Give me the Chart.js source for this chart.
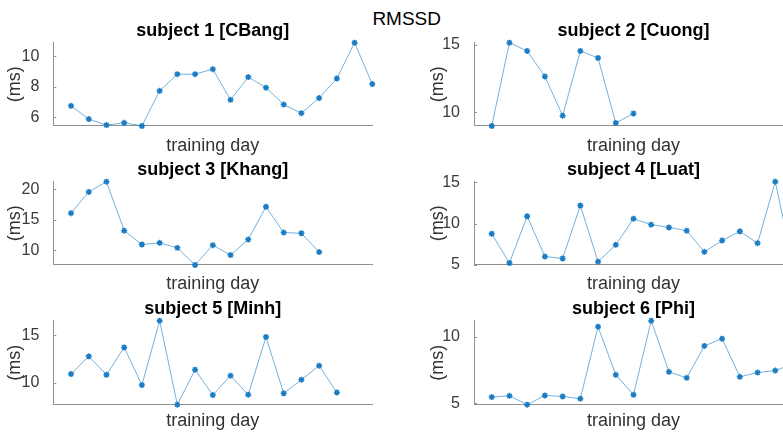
<!DOCTYPE html>
<html>
<head>
<meta charset="utf-8">
<title>RMSSD</title>
<script src="https://cdn.jsdelivr.net/npm/chart.js@4.4.1/dist/chart.umd.min.js"></script>
<style>
  html, body { margin: 0; padding: 0; background: #fff; }
  #wrap { position: relative; width: 783px; height: 433px; overflow: hidden; }
  #wrap canvas { position: absolute; }
  #sg {
    position: absolute; top: 9px; left: 406.7px; transform: translateX(-50%);
    font: 19px/19px 'Liberation Sans', Arial, Helvetica, sans-serif; color: #000; white-space: nowrap;
  }
</style>
</head>
<body>
<div id="wrap">
  <div id="sg">RMSSD</div>
</div>
<script>
// values, one point per training day
const titles = ['subject 1 [CBang]', 'subject 2 [Cuong]', 'subject 3 [Khang]',
                'subject 4 [Luat]', 'subject 5 [Minh]', 'subject 6 [Phi]'];

const cbang = [6.76, 5.89, 5.5, 5.65, 5.44, 7.74, 8.83, 8.83, 9.16, 7.15, 8.64, 7.95, 6.84, 6.28, 7.27, 8.55, 10.89, 8.18];
const cuong = [9.0, 15.15, 14.54, 12.66, 9.76, 14.54, 14.02, 9.22, 9.93];
const khang = [16.1, 19.57, 21.24, 13.24, 10.97, 11.24, 10.43, 7.62, 10.86, 9.24, 11.78, 17.14, 12.92, 12.81, 9.73];
const luat  = [8.78, 5.24, 10.9, 6.02, 5.8, 12.2, 5.4, 7.44, 10.6, 9.88, 9.55, 9.15, 6.59, 7.97, 9.07, 7.64, 15.08, 5.0];
const minh  = [10.94, 12.8, 10.87, 13.74, 9.79, 16.54, 7.73, 11.4, 8.74, 10.77, 8.78, 14.83, 8.92, 10.35, 11.82, 9.02];
const phi   = [5.45, 5.55, 4.88, 5.58, 5.5, 5.33, 10.75, 7.13, 5.63, 11.2, 7.35, 6.9, 9.3, 9.85, 6.98, 7.3, 7.45, 7.95];

const ticks1 = [6, 8, 10];
const ticks2 = [10, 15];
const ticks3 = [10, 15, 20];
const ticks4 = [5, 10, 15];
const ticks5 = [10, 15];
const ticks6 = [5, 10];

const dayMin = 0;
const dayMax = 18;

const FONT = "'Liberation Sans', Arial, Helvetica, sans-serif";
const AXIS = '#8f8f8f';
const TICK = '#3a3a3a';
const LABEL = '#333333';
const LINE = 'rgba(0, 114, 189, 0.55)';
const MARK = '#1a7cc4';

// subplot grid geometry (page pixels)
const cols = [
  { left: 0,   width: 390, areaLeft: 53.3, areaRight: 372.3, ylabelX: 15.5 },
  { left: 400, width: 410, areaLeft: 474,  areaRight: 793,   ylabelX: 438.3 }
];
const rows = [
  { titleY: 31,  areaTop: 42.7,  areaBottom: 126, xlabelY: 146 },
  { titleY: 170, areaTop: 181.7, areaBottom: 265, xlabelY: 284 },
  { titleY: 309, areaTop: 321,   areaBottom: 405, xlabelY: 421.5 }
];

const cells = [
  { title: titles[0], values: cbang, ticks: ticks1, row: 0, col: 0 },
  { title: titles[1], values: cuong, ticks: ticks2, row: 0, col: 1 },
  { title: titles[2], values: khang, ticks: ticks3, row: 1, col: 0 },
  { title: titles[3], values: luat,  ticks: ticks4, row: 1, col: 1 },
  { title: titles[4], values: minh,  ticks: ticks5, row: 2, col: 0 },
  { title: titles[5], values: phi,   ticks: ticks6, row: 2, col: 1 }
];

const TITLE_SIZE = 18;
const LABEL_SIZE = 18;
const TICK_SIZE = 16;
const CANVAS_H = 160;

// MATLAB style ticks pointing into the axes
const inwardTicks = {
  id: 'inwardTicks',
  afterDraw(chart) {
    const { ctx, chartArea, scales: { y } } = chart;
    ctx.save();
    ctx.strokeStyle = AXIS;
    ctx.lineWidth = 1;
    y.ticks.forEach(t => {
      const py = Math.round(y.getPixelForValue(t.value)) + 0.5;
      ctx.beginPath();
      ctx.moveTo(chartArea.left, py);
      ctx.lineTo(chartArea.left + 3, py);
      ctx.stroke();
    });
    ctx.restore();
  }
};

const wrap = document.getElementById('wrap');

cells.forEach(cell => {
  const c = cols[cell.col];
  const r = rows[cell.row];
  const top = r.areaTop - 42.7;

  const canvas = document.createElement('canvas');
  canvas.width = c.width;
  canvas.height = CANVAS_H;
  canvas.style.left = c.left + 'px';
  canvas.style.top = top + 'px';
  wrap.appendChild(canvas);

  const tLine = TITLE_SIZE * 1.2;
  const lLine = LABEL_SIZE * 1.2;
  const padTop = r.titleY - top - tLine / 2;
  const titleGap = r.areaTop - r.titleY - tLine / 2;
  const padBottom = top + CANVAS_H - r.xlabelY - lLine / 2;
  const xHeight = r.xlabelY + lLine / 2 - r.areaBottom;

  new Chart(canvas, {
    type: 'line',
    data: {
      datasets: [{
        data: cell.values.map((v, i) => ({ x: i + 1, y: v })),
        borderColor: LINE,
        borderWidth: 1,
        pointStyle: 'star',
        pointRadius: 3,
        pointBorderColor: MARK,
        pointBackgroundColor: MARK,
        pointBorderWidth: 1.5,
        tension: 0,
        clip: 5
      }]
    },
    options: {
      responsive: false,
      animation: false,
      events: [],
      layout: { padding: { left: 0, right: c.left + c.width - c.areaRight, top: padTop, bottom: padBottom } },
      plugins: {
        legend: { display: false },
        tooltip: { enabled: false },
        title: {
          display: true,
          text: cell.title,
          fullSize: false,
          color: '#000',
          font: { family: FONT, size: TITLE_SIZE, weight: 'bold', lineHeight: 1.2 },
          padding: { top: 0, bottom: titleGap }
        }
      },
      scales: {
        x: {
          type: 'linear',
          min: dayMin,
          max: dayMax,
          ticks: { display: false },
          grid: { display: false },
          border: { display: true, color: AXIS, width: 1 },
          title: {
            display: true,
            text: 'training day',
            color: LABEL,
            font: { family: FONT, size: LABEL_SIZE, lineHeight: 1.2 },
            padding: { top: 0, bottom: 0 }
          },
          afterFit: s => { s.height = xHeight; }
        },
        y: {
          min: Math.min(...cell.values),
          max: Math.max(...cell.values),
          afterBuildTicks: s => { s.ticks = cell.ticks.map(v => ({ value: v })); },
          ticks: { color: TICK, font: { family: FONT, size: TICK_SIZE }, padding: 6 },
          grid: { display: false },
          border: { display: true, color: AXIS, width: 1 },
          title: {
            display: true,
            text: '(ms)',
            color: LABEL,
            font: { family: FONT, size: LABEL_SIZE, lineHeight: 1.2 },
            padding: { top: c.ylabelX - c.left - lLine / 2, bottom: 0 }
          },
          afterFit: s => { s.width = c.areaLeft - c.left; }
        }
      }
    },
    plugins: [inwardTicks]
  });
});
</script>
</body>
</html>
